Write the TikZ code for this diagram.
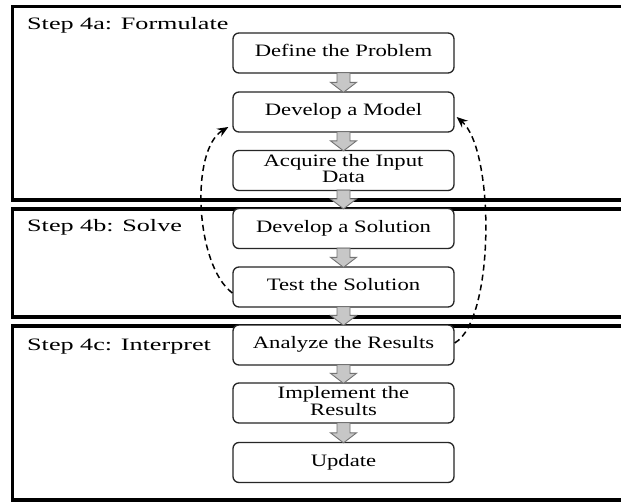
\documentclass[tikz,border=0pt]{standalone}
\usepackage{fontspec}
\setmainfont{Liberation Serif}
\usetikzlibrary{calc,arrows.meta}
\newcommand{\wtxt}[2]{\scalebox{#1}[1]{\begin{tabular}{@{}c@{}}#2\end{tabular}}}
\tikzset{
  frame/.style={line width=3.5bp, draw=black},
  stepbox/.style={draw=black!85, line width=1.3bp, rounded corners=6bp, fill=white,
    minimum width=221bp, minimum height=40bp, align=center, inner sep=1bp,
    font=\fontsize{17.5}{17.5}\selectfont},
  steplabel/.style={anchor=base west, inner sep=0pt, font=\fontsize{17.5}{17.5}\selectfont},
  blockarr/.style={fill=black!22, draw=black!55, line width=0.9bp, line join=miter},
  loopback/.style={dashed, dash pattern=on 6bp off 4bp, line width=1.5bp,
    -{Stealth[length=11bp,width=9bp]}}
}
\newcommand{\flowarrow}[2]{%
  \draw[blockarr] ($(#1.south)+(-6.5,-1)$) -- ($(#2.north)+(-6.5,-9)$) -- ($(#2.north)+(-13,-9)$)
   -- ($(#2.north)+(0,1)$) -- ($(#2.north)+(13,-9)$) -- ($(#2.north)+(6.5,-9)$)
   -- ($(#1.south)+(6.5,-1)$) -- cycle;}
\renewcommand{\arraystretch}{0.85}
\begin{document}
\begin{tikzpicture}[x=1bp,y=-1bp]
\useasboundingbox (0,0) rectangle (621,502);
\fill[white] (0,0) rectangle (621,502);
% frames
\draw[frame] (12.5,6.5) rectangle (640,200);
\draw[frame] (12.5,209) rectangle (640,317);
\draw[frame] (12.5,326) rectangle (640,500);
% labels
\node[steplabel] (la) at (27,30) {\scalebox{1.5}[1]{Step 4a: Formulate}};
\node[steplabel] (lb) at (27,232) {\scalebox{1.5}[1]{Step 4b: Solve}};
\node[steplabel] (lc) at (27,350) {\scalebox{1.5}[1]{Step 4c: Interpret}};
% boxes
\node[stepbox] (def) at (343.5,53) {\wtxt{1.3}{Define the Problem}};
\node[stepbox] (mod) at (343.5,112) {\wtxt{1.3}{Develop a Model}};
\node[stepbox] (acq) at (343.5,170.5) {\wtxt{1.3}{Acquire the Input\\Data}};
\node[stepbox] (sol) at (343.5,228.5) {\wtxt{1.3}{Develop a Solution}};
\node[stepbox] (tst) at (343.5,287) {\wtxt{1.3}{Test the Solution}};
\node[stepbox] (ana) at (343.5,345) {\wtxt{1.3}{Analyze the Results}};
\node[stepbox] (imp) at (343.5,403) {\wtxt{1.3}{Implement the\\Results}};
\node[stepbox] (upd) at (343.5,462.5) {\wtxt{1.3}{Update}};
% block arrows
\flowarrow{def}{mod}
\flowarrow{mod}{acq}
\flowarrow{acq}{sol}
\flowarrow{sol}{tst}
\flowarrow{tst}{ana}
\flowarrow{ana}{imp}
\flowarrow{imp}{upd}
% feedback loops
\draw[loopback] ($(tst.west)+(0,6)$) .. controls (195,265) and (190,150) .. ($(mod.west)+(-4,15)$);
\draw[loopback] ($(ana.east)+(0,-2)$) .. controls (495,320) and (495,150) .. ($(mod.east)+(2,5)$);
\end{tikzpicture}
\end{document}
